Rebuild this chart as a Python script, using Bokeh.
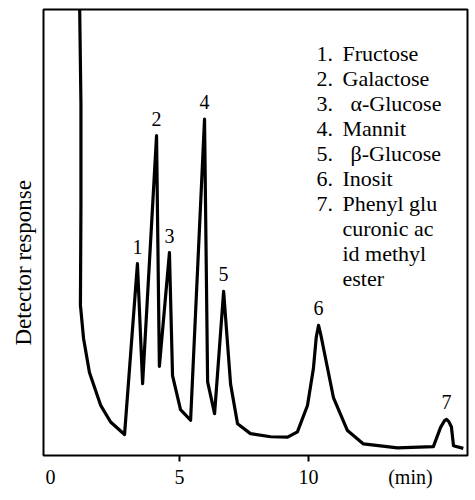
import math
from bokeh.plotting import figure
from bokeh.models import Range1d, Label, FixedTicker, ColumnDataSource, Title
from bokeh.core.properties import value
from bokeh.embed import file_html
from bokeh.resources import INLINE

# ---- data ----
time_min = [1.12, 1.18, 1.18, 1.16, 1.28, 1.51, 1.94, 2.33, 2.87, 3.37, 3.57,
            4.11, 4.22, 4.61, 4.73, 5.04, 5.43, 5.97, 6.09, 6.36, 6.71, 6.98,
            7.25, 7.75, 8.53, 9.19, 9.57, 9.96, 10.19, 10.30, 10.39, 10.48, 10.58,
            10.97, 11.51, 12.13, 13.45, 14.84, 15.12, 15.27, 15.35, 15.44, 15.54,
            15.62, 16.0]
response = [105, 78.8, 56.2, 33.7, 26.3, 18.6, 11.3, 7.5, 4.7, 43.0, 16.1,
            71.7, 20.0, 45.5, 17.9, 10.3, 7.9, 75.4, 16.5, 9.4, 36.8, 16.0,
            7.1, 4.9, 4.2, 4.1, 5.3, 11.2, 19.5, 26.5, 29.2, 27.0, 24.1,
            12.9, 5.6, 2.6, 1.7, 2.0, 6.3, 7.8, 8.1, 7.6, 6.4,
            2.2, 1.6]

peak_ids = ["1", "2", "3", "4", "5", "6", "7"]
peak_time = [3.37, 4.11, 4.61, 5.97, 6.71, 10.39, 15.35]
peak_height = [43.0, 71.7, 45.5, 75.4, 36.8, 29.2, 8.1]

legend_nums = ["1.", "2.", "3.", "4.", "5.", "6.", "7.", "", "", ""]
legend_names = ["Fructose", "Galactose", "α-Glucose", "Mannit", "β-Glucose",
                "Inosit", "Phenyl glu", "curonic ac", "id methyl", "ester"]

x_label_ticks = [0, 5, 10, 13.95]
x_tick_marks = [5, 10]
x_tick_labels = {0: "0", 5: "5", 10: "10", 13.95: "(min)"}
y_title = "Detector response"

# ---- layout ----
W, H = 475, 500
FL, FR, FT, FB = 43, 467, 9, 455
X0, X1 = (FL - 50) / 25.8, (FR - 50) / 25.8
Y0, Y1 = 0, 100

def px2x(px):
    return X0 + (px - FL) / (FR - FL) * (X1 - X0)

def py2y(py):
    return Y0 + (FB - py) / (FB - FT) * (Y1 - Y0)

FONT = "Liberation Serif"

p = figure(width=W, height=H, output_backend="svg", toolbar_location=None,
           x_range=Range1d(X0, X1), y_range=Range1d(Y0, Y1),
           min_border_left=FL, min_border_right=W - FR,
           min_border_top=FT, min_border_bottom=H - FB)
p.grid.visible = False
p.yaxis.visible = False
p.outline_line_color = "black"
p.outline_line_width = 2
p.outline_line_alpha = 1
p.background_fill_color = "white"
p.border_fill_color = "white"

ax = p.xaxis[0]
ax.ticker = FixedTicker(ticks=x_label_ticks, minor_ticks=x_tick_marks)
ax.major_label_overrides = x_tick_labels
ax.axis_line_color = None
ax.major_tick_in = 0
ax.major_tick_out = 6
ax.major_tick_line_color = None
ax.minor_tick_in = 0
ax.minor_tick_out = 6
ax.minor_tick_line_width = 2
ax.minor_tick_line_color = "black"
ax.major_label_text_font = FONT
ax.major_label_text_font_size = "20px"
ax.major_label_text_color = "black"
ax.major_label_standoff = 4

p.add_layout(Title(text=y_title, align="left", offset=110, text_font=FONT,
                   text_font_size="23px", text_font_style="normal",
                   text_color="black", standoff=16), "left")

p.line(time_min, response, line_color="black", line_width=3.2, line_join="round")

src = ColumnDataSource(dict(x=peak_time, y=peak_height, t=peak_ids))
p.text(x="x", y="y", text="t", source=src, y_offset=-17, text_align="center",
       text_baseline="middle", text_font=value(FONT), text_font_size="20px",
       text_color="black")

for i, (num, name) in enumerate(zip(legend_nums, legend_names)):
    base = 53 + 25 * i
    if num:
        p.add_layout(Label(x=px2x(316), y=py2y(base), text=num, text_font=FONT,
                           text_font_size="22px", text_baseline="alphabetic",
                           text_color="black"))
    nx = 350 if name.startswith(("α", "β")) else 342
    p.add_layout(Label(x=px2x(nx), y=py2y(base), text=name, text_font=FONT,
                       text_font_size="22px", text_baseline="alphabetic",
                       text_color="black"))

open("out.html", "w").write(file_html(p, INLINE))
